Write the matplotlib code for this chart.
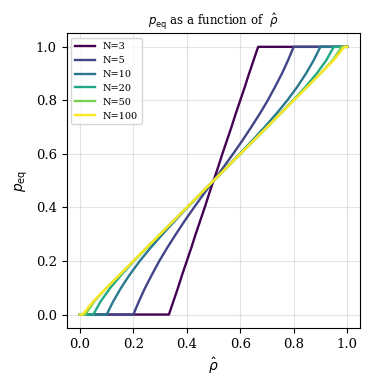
import numpy as np
import matplotlib
matplotlib.use('Agg')
import matplotlib.pyplot as plt

plt.rcParams['font.family'] = 'DejaVu Serif'

# p_eq levels (y values), flat part at 0 and 1 on both ends
p_eq = [0, 0, 0.05, 0.1, 0.15, 0.2, 0.25, 0.3, 0.35, 0.4, 0.45, 0.5,
        0.55, 0.6, 0.65, 0.7, 0.75, 0.8, 0.85, 0.9, 0.95, 1, 1]

# rho_hat for each N
rho_n3 = [0, 0.333, 0.35, 0.367, 0.383, 0.4, 0.417, 0.433, 0.45, 0.467, 0.483, 0.5,
          0.517, 0.533, 0.55, 0.567, 0.583, 0.6, 0.617, 0.633, 0.65, 0.667, 1]
rho_n5 = [0, 0.2, 0.221, 0.244, 0.27, 0.297, 0.327, 0.359, 0.392, 0.427, 0.463, 0.5,
          0.537, 0.573, 0.608, 0.641, 0.673, 0.703, 0.73, 0.756, 0.779, 0.8, 1]
rho_n10 = [0, 0.1, 0.125, 0.154, 0.187, 0.224, 0.265, 0.309, 0.355, 0.402, 0.451, 0.5,
           0.549, 0.598, 0.645, 0.691, 0.735, 0.776, 0.813, 0.846, 0.875, 0.9, 1]
rho_n20 = [0, 0.05, 0.078, 0.114, 0.156, 0.202, 0.251, 0.3, 0.35, 0.4, 0.45, 0.5,
           0.55, 0.6, 0.65, 0.7, 0.749, 0.798, 0.844, 0.886, 0.922, 0.95, 1]
rho_n50 = [0, 0.02, 0.054, 0.1, 0.15, 0.2, 0.25, 0.3, 0.35, 0.4, 0.45, 0.5,
           0.55, 0.6, 0.65, 0.7, 0.75, 0.8, 0.85, 0.9, 0.946, 0.98, 1]
rho_n100 = [0, 0.01, 0.05, 0.1, 0.15, 0.2, 0.25, 0.3, 0.35, 0.4, 0.45, 0.5,
            0.55, 0.6, 0.65, 0.7, 0.75, 0.8, 0.85, 0.9, 0.95, 0.99, 1]

Ns = [3, 5, 10, 20, 50, 100]
curves = [rho_n3, rho_n5, rho_n10, rho_n20, rho_n50, rho_n100]
colors = plt.cm.viridis(np.linspace(0, 1, len(Ns)))

fig = plt.figure(figsize=(3.72, 3.89), dpi=100)
ax = fig.add_axes([0.179, 0.157, 0.79, 0.757])

for n, rho, c in zip(Ns, curves, colors):
    ax.plot(rho, p_eq, lw=1.7, color=c, label='N=%d' % n)

ax.grid(alpha=0.35)
ax.set_xticks([0, 0.2, 0.4, 0.6, 0.8, 1.0])
ax.set_yticks([0, 0.2, 0.4, 0.6, 0.8, 1.0])
ax.tick_params(labelsize=9.5)
ax.set_xlabel(r'$\hat{\rho}$', fontsize=10)
ax.set_ylabel(r'$p_{\mathrm{eq}}$', fontsize=10)
ax.set_title(r'$p_{\mathrm{eq}}$ as a function of  $\hat{\rho}$', fontsize=8.5)
ax.legend(loc='upper left', fontsize=7)

fig.savefig('out.png', dpi=100)
